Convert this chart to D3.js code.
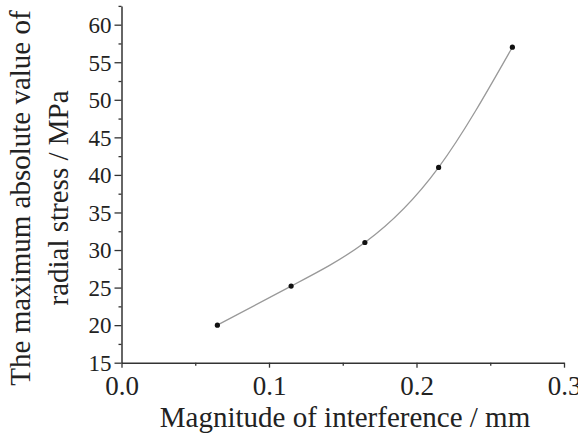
<!DOCTYPE html>
<html>
<head>
<meta charset="utf-8">
<script src="https://cdn.jsdelivr.net/npm/d3@7"></script>
<style>
  body { margin: 0; background: #fff; }
  svg { display: block; }
</style>
</head>
<body>
<div class="container"></div>
<script>
const interference = [0.065, 0.115, 0.165, 0.215, 0.265];
const radialStress = [20.0, 25.2, 31.0, 41.0, 57.0];
const xTicks = [0.0, 0.1, 0.2, 0.3];
const yTicks = [15, 20, 25, 30, 35, 40, 45, 50, 55, 60];
const xMinor = [0.05, 0.15, 0.25];
const yMinor = [17.5, 22.5, 27.5, 32.5, 37.5, 42.5, 47.5, 52.5, 57.5, 62.5];

const width = 578, height = 436;
const serif = "Liberation Serif";

const svg = d3.select(".container")
    .append("svg")
    .attr("width", width)
    .attr("height", height)
    .attr("font-family", serif);

const x = d3.scaleLinear().domain([0, 0.3]).range([121.5, 564]);
const y = d3.scaleLinear().domain([15, 62.5]).range([362.7, 5.9]);

const data = interference.map((v, i) => ({ x: v, y: radialStress[i] }));

// minor ticks
svg.append("g")
    .attr("transform", `translate(0, ${y(15)})`)
    .call(d3.axisBottom(x).tickValues(xMinor).tickSize(3).tickFormat(""))
    .call(g => g.select(".domain").remove())
    .selectAll("line").attr("stroke", "#333").attr("stroke-width", 1.3);

svg.append("g")
    .attr("transform", `translate(${x(0)}, 0)`)
    .call(d3.axisLeft(y).tickValues(yMinor).tickSize(3).tickFormat(""))
    .call(g => g.select(".domain").remove())
    .selectAll("line").attr("stroke", "#333").attr("stroke-width", 1.3);

// major axes
const xAxis = svg.append("g")
    .attr("transform", `translate(0, ${y(15)})`)
    .call(d3.axisBottom(x).tickValues(xTicks).tickSize(5).tickSizeOuter(0).tickPadding(8)
        .tickFormat(d3.format(".1f")));

const yAxis = svg.append("g")
    .attr("transform", `translate(${x(0)}, 0)`)
    .call(d3.axisLeft(y).tickValues(yTicks).tickSize(7).tickSizeOuter(0).tickPadding(3)
        .tickFormat(d3.format("d")));

[xAxis, yAxis].forEach(g => {
  g.attr("font-family", serif);
  g.select(".domain").attr("stroke", "#333").attr("stroke-width", 1.5);
  g.selectAll(".tick line").attr("stroke", "#333").attr("stroke-width", 1.3);
  g.selectAll("text").attr("fill", "#222").attr("font-family", serif);
});
xAxis.attr("font-size", 27);
yAxis.attr("font-size", 23);
yAxis.selectAll("text").attr("dy", "0.34em");

// curve
svg.append("path")
    .datum(data)
    .attr("fill", "none")
    .attr("stroke", "#999")
    .attr("stroke-width", 1.3)
    .attr("d", d3.line().x(d => x(d.x)).y(d => y(d.y)).curve(d3.curveNatural));

svg.selectAll(".dot")
    .data(data)
    .enter()
    .append("circle")
    .attr("class", "dot")
    .attr("cx", d => x(d.x))
    .attr("cy", d => y(d.y))
    .attr("r", 2.6)
    .attr("fill", "#111");

// axis titles
svg.append("text")
    .attr("x", 345)
    .attr("y", 427)
    .attr("text-anchor", "middle")
    .attr("font-family", serif)
    .attr("font-size", 29)
    .attr("fill", "#222")
    .text("Magnitude of interference / mm");

const yTitle = svg.append("text")
    .attr("transform", "translate(30, 198) rotate(-90)")
    .attr("text-anchor", "middle")
    .attr("font-family", serif)
    .attr("font-size", 29)
    .attr("fill", "#222");
yTitle.append("tspan").attr("x", 0).attr("y", 0).text("The maximum absolute value of");
yTitle.append("tspan").attr("x", 0).attr("y", 38).text("radial stress / MPa");
</script>
</body>
</html>
